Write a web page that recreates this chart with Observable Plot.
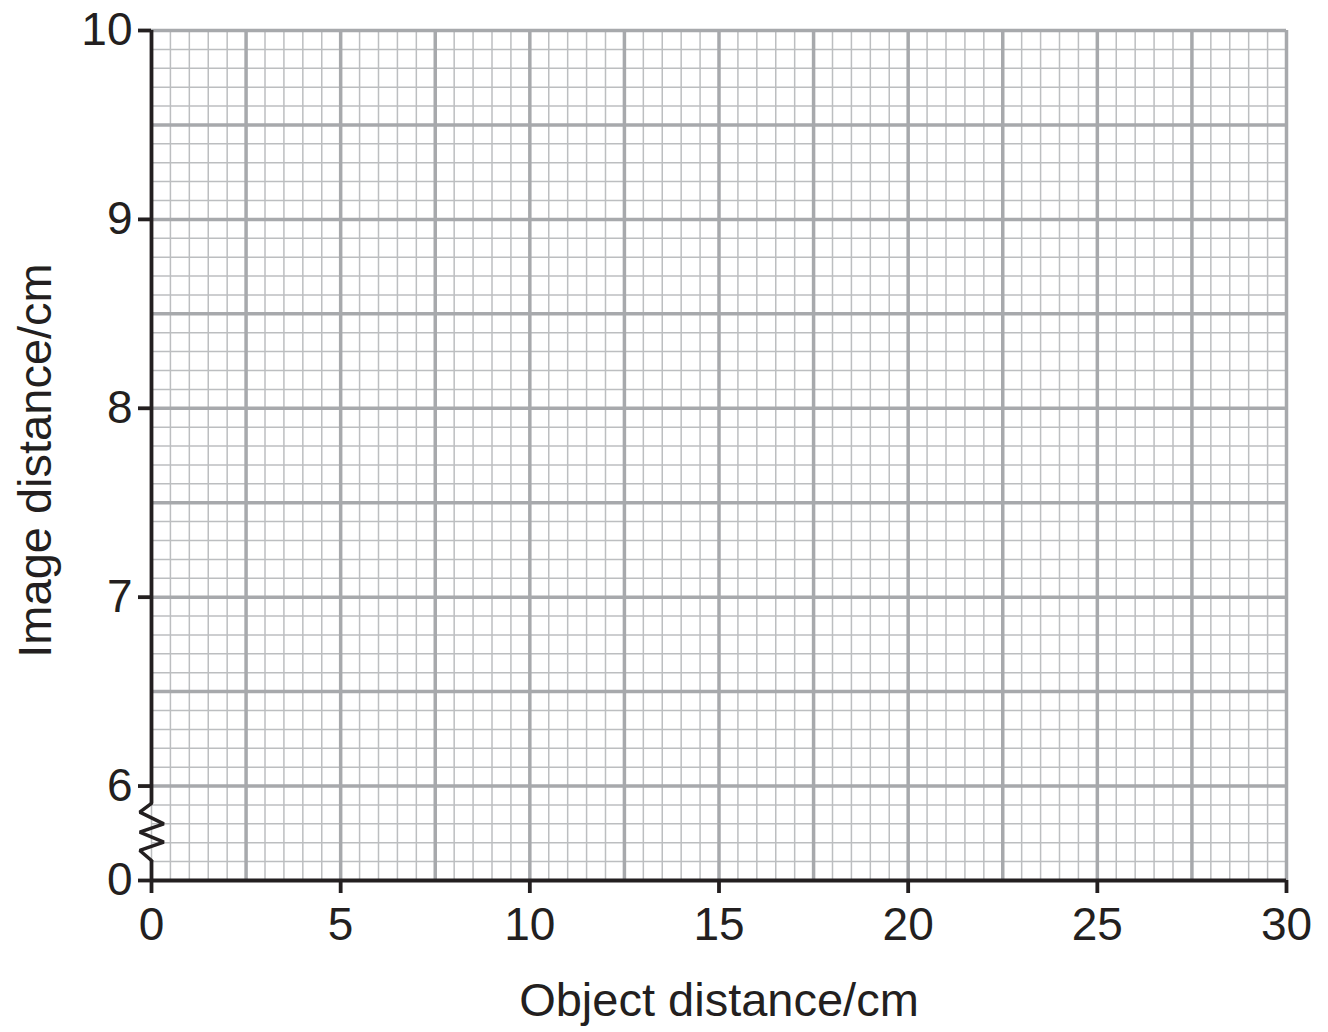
<!DOCTYPE html>
<html>
<head>
<meta charset="utf-8">
<script src="https://cdn.jsdelivr.net/npm/d3@7"></script>
<script src="https://cdn.jsdelivr.net/npm/@observablehq/plot@0.6"></script>
<style>
  html, body { margin: 0; padding: 0; background: #fff; }
</style>
</head>
<body>
<div id="chart"></div>
<script>
// Axis ticks and labels
const xTicks = [0, 5, 10, 15, 20, 25, 30];
const yTicks = [5.5, 6, 7, 8, 9, 10];        // 5.5 is the broken-axis origin, labelled "0"
const yBreakValue = 5.5;
const yBreakLabel = "0";
const xLabel = "Object distance/cm";
const yLabel = "Image distance/cm";

// Grid spacing (graph paper)
const xMajorStep = 2.5, xMinorStep = 0.5;
const yMajorStep = 0.5, yMinorStep = 0.1;
const xDomain = [0, 30];
const yDomain = [5.5, 10];

// Axis-break zigzag (data units)
const breakX = [0, -0.31, 0.325, -0.31, 0.325, -0.31, 0];
const breakY = [5.908, 5.862, 5.800, 5.756, 5.703, 5.659, 5.606];
const breakMark = breakX.map((x, i) => ({x, y: breakY[i]}));

const rng = (a, b, s) => d3.range(0, Math.round((b - a) / s) + 1).map(i => +(a + i * s).toFixed(4));
const xMinor = rng(xDomain[0], xDomain[1], xMinorStep);
const xMajor = rng(xDomain[0] + xMajorStep, xDomain[1], xMajorStep);
const yMinor = rng(yDomain[0], yDomain[1], yMinorStep);
const yMajor = rng(yDomain[0] + yMajorStep, yDomain[1], yMajorStep);

const ink = "#231f20";
const major = "#a7a9ac";
const minor = "#bcbec0";

const chart = Plot.plot({
  width: 1328,
  height: 1032,
  marginLeft: 151,
  marginRight: 42,
  marginTop: 30,
  marginBottom: 152,
  style: {fontFamily: "'Liberation Sans', Arial, Helvetica, sans-serif", background: "#fff", color: ink},
  x: {domain: xDomain},
  y: {domain: yDomain},
  marks: [
    Plot.ruleX(xMinor, {stroke: minor, strokeWidth: 1.5}),
    Plot.ruleY(yMinor, {stroke: minor, strokeWidth: 1.5}),
    Plot.ruleX(xMajor, {stroke: major, strokeWidth: 3.5}),
    Plot.ruleY(yMajor, {stroke: major, strokeWidth: 3.5}),
    // axes lines
    Plot.ruleY([yDomain[0]], {stroke: ink, strokeWidth: 3.8}),
    Plot.ruleX([0], {y1: breakY[0], y2: yDomain[1], stroke: ink, strokeWidth: 3.8}),
    Plot.ruleX([0], {y1: yDomain[0], y2: breakY[breakY.length - 1], stroke: ink, strokeWidth: 3.8}),
    Plot.line(breakMark, {x: "x", y: "y", stroke: ink, strokeWidth: 3.5, strokeLinejoin: "miter"}),
    Plot.axisX({
      ticks: xTicks, tickSize: 13, tickPadding: 14, stroke: ink, strokeWidth: 3.8,
      fontSize: 46, fill: ink, label: null
    }),
    Plot.axisY({
      ticks: yTicks, tickSize: 13, tickPadding: 6, stroke: ink, strokeWidth: 3.8,
      fontSize: 46, fill: ink, label: null,
      tickFormat: d => d === yBreakValue ? yBreakLabel : String(d)
    }),
    Plot.text([xLabel], {frameAnchor: "bottom", dy: 120, textAnchor: "middle", lineAnchor: "middle", fontSize: 47, fill: ink}),
    Plot.text([yLabel], {frameAnchor: "left", dx: -116, dy: 5, rotate: -90, textAnchor: "middle", lineAnchor: "middle", fontSize: 47, fill: ink})
  ]
});
document.getElementById("chart").appendChild(chart);
</script>
</body>
</html>
